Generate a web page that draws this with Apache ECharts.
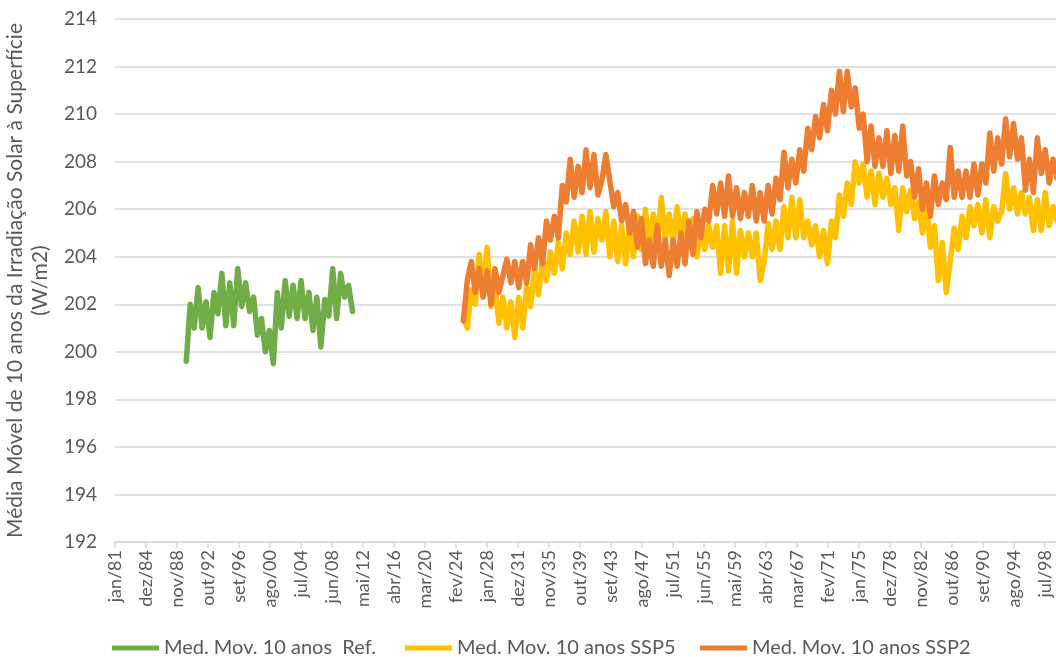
<!DOCTYPE html>
<html><head><meta charset="utf-8">
<script src="https://cdn.jsdelivr.net/npm/echarts@6/dist/echarts.min.js"></script>
<style>html,body{margin:0;padding:0;background:#fff}#c{width:1056px;height:657px}</style>
</head><body><div id="c"></div>
<script>
// x axis: monthly categories jan/1981 .. dez/2100, one label every 47 months
const tickLabels = ['jan/81','dez/84','nov/88','out/92','set/96','ago/00','jul/04','jun/08','mai/12','abr/16','mar/20','fev/24','jan/28','dez/31','nov/35','out/39','set/43','ago/47','jul/51','jun/55','mai/59','abr/63','mar/67','fev/71','jan/75','dez/78','nov/82','out/86','set/90','ago/94','jul/98'];
const monthsTotal = 1440;
const labelStep = 47;

const seriesNames = ['Med. Mov. 10 anos  Ref.', 'Med. Mov. 10 anos SSP5', 'Med. Mov. 10 anos SSP2'];

// Reference: values every 6 months starting at month index 108 (jan/1990)
const refStart = 108, refStep = 6;
const refValues = [199.6, 202.0, 201.0, 202.7, 201.0, 202.1, 200.6, 202.5, 201.6, 203.3, 201.1, 202.9, 201.1, 203.5, 201.9, 202.9, 201.7, 202.3, 200.7, 201.4, 200.0, 200.9, 199.5, 202.5, 201.0, 203.0, 201.5, 202.8, 201.4, 203.0, 201.4, 202.5, 200.9, 202.3, 200.2, 202.2, 201.5, 203.5, 201.4, 203.3, 202.3, 202.8, 201.7];

// Scenarios: values every 6 months starting at month index 528 (jan/2025)
const sspStart = 528, sspStep = 6;
const ssp5Values = [
 201.4, 201.0, 202.6, 202.0, 204.1, 202.3, 204.4, 201.9, 202.8, 201.2, 202.3, 201.0, 202.1, 200.6, 202.3, 201.0, 202.7, 201.9, 203.5, 202.4, 203.9, 203.0, 204.2, 203.3, 204.6, 203.5, 205.0, 204.1, 205.5, 204.2, 205.7, 204.1, 205.9, 204.2, 205.6, 204.7,
 205.9, 204.0, 205.5, 203.8, 205.3, 203.7, 205.3, 204.0, 205.7, 204.3, 206.0, 204.4, 205.8, 204.5, 206.5, 204.7, 205.8, 204.6, 206.1, 204.7, 205.8, 204.4, 205.6, 204.0, 205.3, 204.3, 205.3, 204.4, 205.3, 203.3, 205.3, 203.4, 205.5, 203.3, 205.1, 204.0, 205.0, 204.0, 205.0, 203.0,
 203.8, 205.4, 204.3, 205.5, 204.3, 206.1, 204.8, 206.5, 204.8, 206.4, 204.8, 205.5, 204.5, 205.3, 204.0, 205.1, 203.7, 205.5, 204.8, 206.6, 205.7, 207.1, 206.2, 208.0, 207.1, 207.9, 206.5, 207.6, 206.2, 207.5, 206.5, 207.3, 206.2, 206.9, 205.1, 206.9,
 205.9, 206.8, 205.6, 206.3, 205.0, 206.2, 204.4, 205.3, 203.0, 204.6, 202.5, 203.8, 205.2, 204.3, 205.7, 204.8, 206.1, 205.3, 206.2, 205.0, 206.4, 204.8, 206.1, 205.5, 205.9, 207.5, 206.0, 206.9, 205.8, 206.7, 205.8, 206.5, 205.1, 206.4, 205.1, 206.7, 205.3, 206.1, 205.5, 206.0
];
const ssp2Values = [
 201.3, 203.0, 203.8, 202.5, 203.5, 202.3, 203.4, 202.0, 203.5, 202.5, 203.2, 203.9, 202.9, 203.8, 202.7, 203.8, 202.9, 204.5, 203.5, 204.8, 203.7, 205.5, 204.7, 205.7, 204.8, 207.0, 206.3, 208.1, 206.5, 207.8, 206.7, 208.5, 206.9, 208.3, 206.6, 207.2,
 208.3, 207.2, 206.1, 206.7, 205.5, 206.2, 205.0, 205.9, 204.4, 205.6, 203.7, 204.7, 203.6, 205.3, 203.6, 204.7, 203.2, 204.7, 203.6, 205.0, 203.7, 205.5, 204.1, 205.9, 204.8, 206.0, 205.5, 207.0, 205.8, 207.1, 205.7, 207.4, 205.7, 206.9, 205.6, 206.7, 205.7, 207.0, 205.5, 206.7,
 205.5, 207.0, 205.8, 207.3, 206.4, 208.4, 206.9, 208.1, 207.1, 208.5, 207.6, 209.4, 208.5, 209.9, 209.0, 210.4, 209.3, 211.0, 210.0, 211.8, 210.1, 211.8, 210.3, 211.1, 209.4, 210.0, 208.0, 209.5, 207.8, 209.0, 207.8, 209.3, 207.5, 209.1, 207.6, 209.5,
 207.4, 208.0, 206.5, 207.7, 206.0, 207.1, 205.7, 207.4, 206.2, 207.1, 206.4, 208.6, 206.5, 207.6, 206.5, 207.6, 206.5, 207.9, 206.6, 207.9, 207.1, 209.2, 207.6, 209.0, 207.9, 209.8, 208.2, 209.6, 208.1, 209.0, 206.8, 208.1, 206.7, 209.0, 207.5, 208.5, 207.1, 208.1, 207.3, 208.0
];

const colors = ['#70AD47', '#FFC000', '#ED7D31'];
const toPairs = (vals, start, step) => vals.map((v, i) => [start + i * step, v]);

const font = 'Lato, "Open Sans", sans-serif';
const textColor = '#595959';
const gridColor = '#d9d9d9';

const chart = echarts.init(document.getElementById('c'), null, {renderer: 'canvas'});
const legendLeft = [112, 405, 700];

chart.setOption({
  animation: false,
  backgroundColor: '#ffffff',
  color: colors,
  grid: {left: 115, top: 19, width: 950, height: 523, containLabel: false, outerBoundsMode: 'none'},
  legend: seriesNames.map((n, i) => ({
    data: [n], left: legendLeft[i], top: 638, padding: 0, itemGap: 0,
    itemWidth: 47, itemHeight: 5, icon: 'rect',
    textStyle: {fontSize: 20, color: textColor, fontFamily: font}
  })),
  xAxis: {
    type: 'value', min: 0, max: monthsTotal, interval: labelStep,
    splitLine: {show: false},
    axisLine: {show: true, lineStyle: {color: gridColor, width: 1.5}},
    axisTick: {show: true, length: 6, lineStyle: {color: gridColor, width: 1.5}},
    axisLabel: {
      rotate: 90, margin: 8, fontSize: 18, color: textColor, fontFamily: font,
      showMaxLabel: false,
      formatter: v => tickLabels[Math.round(v / labelStep)] || ''
    }
  },
  yAxis: {
    type: 'value', min: 192, max: 214, interval: 2,
    name: 'Média Móvel de 10 anos da Irradiação Solar à Superfície\n(W/m2)',
    nameLocation: 'middle', nameGap: 61, nameRotate: 90,
    nameTextStyle: {fontSize: 21, color: textColor, fontFamily: font, lineHeight: 25},
    axisLine: {show: false}, axisTick: {show: false},
    axisLabel: {fontSize: 19, color: textColor, fontFamily: font, margin: 18},
    splitLine: {lineStyle: {color: gridColor, width: 1.5}}
  },
  series: [
    {name: seriesNames[0], type: 'line', data: toPairs(refValues, refStart, refStep)},
    {name: seriesNames[1], type: 'line', data: toPairs(ssp5Values, sspStart, sspStep)},
    {name: seriesNames[2], type: 'line', data: toPairs(ssp2Values, sspStart, sspStep)}
  ].map((s, i) => Object.assign(s, {
    showSymbol: false, symbol: 'none', clip: true,
    lineStyle: {width: 5.5, color: colors[i], join: 'round', cap: 'round'},
    itemStyle: {color: colors[i]}
  }))
});
</script></body></html>
